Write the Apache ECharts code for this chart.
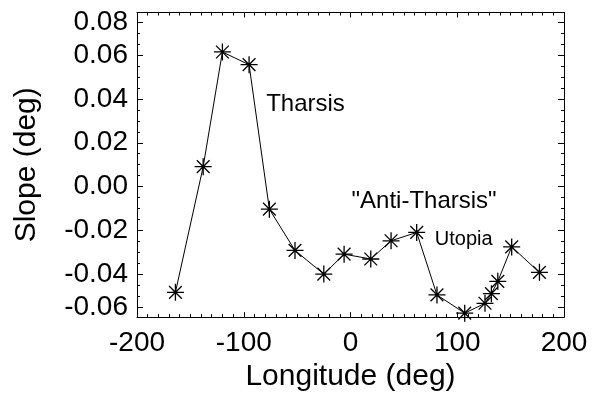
<!DOCTYPE html>
<html style="height: 100%">
<head>
    <meta charset="utf-8">
    <title>Slope vs Longitude</title>
</head>
<body style="height: 100%; margin: 0; background: #fff">
    <div id="container" style="width: 600px; height: 397px"></div>
    <script type="text/javascript" src="https://cdn.jsdelivr.net/npm/echarts@6/dist/echarts.min.js"></script>
    <script type="text/javascript">
        // longitude (deg) and slope (deg)
        var lon = [-164, -138, -120, -95, -76, -52, -25, -6, 19, 38, 62, 81, 107, 126, 132, 138, 151, 177];
        var slope = [-0.0482, 0.0091, 0.0614, 0.0556, -0.0103, -0.0291, -0.0399, -0.0308, -0.0330,
                     -0.0247, -0.0209, -0.0494, -0.0577, -0.0532, -0.0488, -0.0432, -0.0275, -0.0391];

        // y ticks as labelled in the original
        var yTickValues = [-0.055, -0.04, -0.02, 0, 0.02, 0.04, 0.06, 0.075];
        var yTickLabels = ['-0.06', '-0.04', '-0.02', '0.00', '0.02', '0.04', '0.06', '0.08'];

        // text notes
        var noteNames = ['Tharsis', '"Anti-Tharsis"', 'Utopia'];
        var noteLon = [-79, 1, 79];
        var noteSlope = [0.0377, -0.0067, -0.024];
        var noteSizes = [24, 24, 20];

        var yMinor = [];
        for (var k = -11; k <= 15; k++) {
            yMinor.push(Math.round(k * 5) / 1000);
        }

        var font = "'Liberation Sans', Arial, Helvetica, sans-serif";
        var star = 'path://M0,-8L0,8M-8,0L8,0M-6,-6L6,6M-6,6L6,-6';

        var dom = document.getElementById("container");
        var myChart = echarts.init(dom, null, {renderer: 'canvas'});

        var lineData = lon.map(function (x, i) { return [x, slope[i]]; });
        var noteData = noteNames.map(function (n, i) {
            return {
                name: n,
                value: [noteLon[i], noteSlope[i]],
                label: {fontSize: noteSizes[i]}
            };
        });

        var yMin = -0.0595, yMax = 0.0794;

        function xAx(pos, labels) {
            return {
                type: 'value', position: pos, min: -200, max: 200, interval: 100,
                name: labels ? 'Longitude (deg)' : '',
                nameLocation: 'middle', nameGap: 40,
                nameTextStyle: {fontFamily: font, fontSize: 30, color: '#000'},
                axisLine: {show: true, onZero: false, lineStyle: {color: '#000', width: 1}},
                axisTick: {show: true, inside: true, length: 5, lineStyle: {color: '#000'}},
                minorTick: {show: true, splitNumber: 10, length: 3, lineStyle: {color: '#000'}},
                axisLabel: {show: labels, margin: 12, fontFamily: font, fontSize: 28, color: '#000',
                    showMinLabel: true, showMaxLabel: true},
                splitLine: {show: false}
            };
        }

        function yAx(pos, ticks, len, labels) {
            return {
                type: 'value', position: pos, min: yMin, max: yMax,
                name: labels ? 'Slope (deg)' : '',
                nameLocation: 'middle', nameGap: 95,
                nameTextStyle: {fontFamily: font, fontSize: 30, color: '#000'},
                axisLine: {show: true, onZero: false, lineStyle: {color: '#000', width: 1}},
                axisTick: {show: true, inside: true, length: len, customValues: ticks, lineStyle: {color: '#000'}},
                axisLabel: {
                    show: labels, margin: 9, fontFamily: font, fontSize: 28, color: '#000',
                    customValues: ticks,
                    formatter: function (v) {
                        var i = yTickValues.indexOf(v);
                        return i >= 0 ? yTickLabels[i] : '';
                    }
                },
                splitLine: {show: false}
            };
        }

        var option = {
            backgroundColor: '#fff',
            animation: false,
            grid: {left: 137, right: 36, top: 12.5, bottom: 79, containLabel: false},
            xAxis: [xAx('bottom', true), xAx('top', false)],
            yAxis: [
                yAx('left', yTickValues, 6, true),
                yAx('left', yMinor, 3, false),
                yAx('right', yTickValues, 6, false),
                yAx('right', yMinor, 3, false)
            ],
            series: [{
                name: 'slope',
                type: 'line',
                data: lineData,
                symbol: star,
                symbolSize: 17,
                showAllSymbol: true,
                clip: false,
                lineStyle: {color: '#000', width: 1},
                itemStyle: {color: '#000', borderColor: '#000', borderWidth: 1.3}
            }, {
                name: 'notes',
                type: 'scatter',
                data: noteData,
                symbolSize: 0,
                itemStyle: {opacity: 1},
                label: {
                    show: true,
                    position: [0, 0],
                    align: 'left',
                    verticalAlign: 'middle',
                    formatter: '{b}',
                    fontFamily: font,
                    color: '#000'
                }
            }]
        };
        myChart.setOption(option, true);
    </script>
</body>
</html>
